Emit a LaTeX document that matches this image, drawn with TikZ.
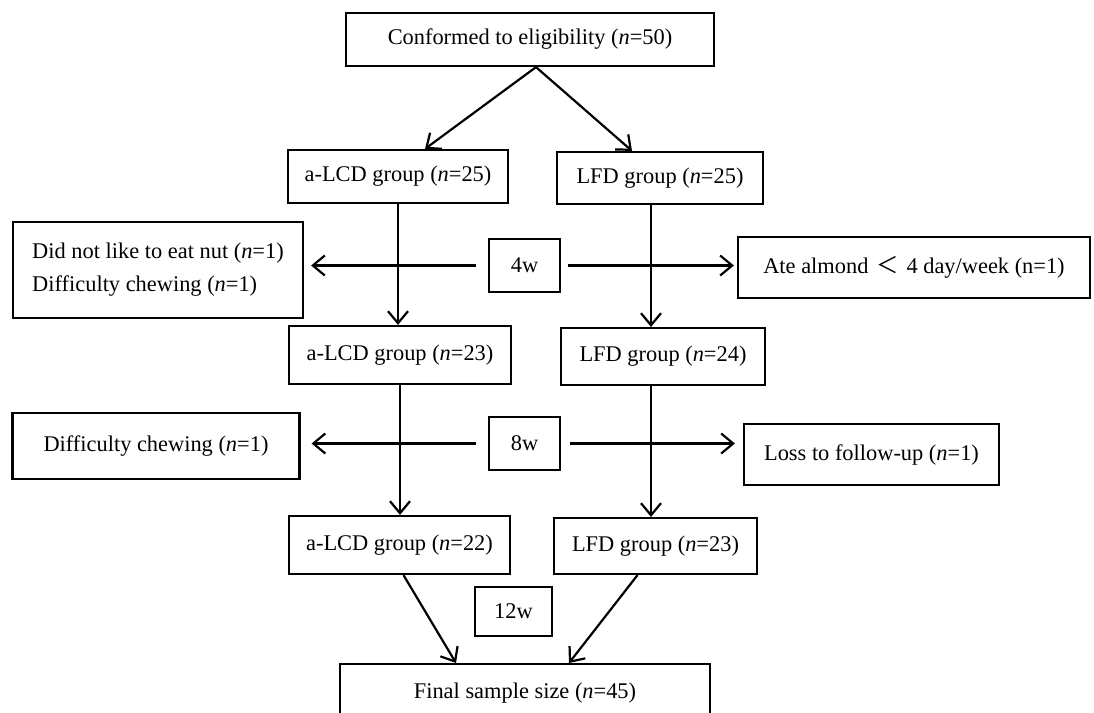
\documentclass[tikz,border=0pt]{standalone}
\usepackage{fontspec}
\setmainfont{Liberation Serif}
\newfontfamily\cjk{Noto Sans CJK SC}
\usetikzlibrary{arrows.meta}
\tikzstyle{box}=[draw, rectangle, line width=1.1pt, inner sep=0pt,
    align=center, font=\fontsize{11.2}{16.5}\selectfont]
\tikzstyle{wk}=[box, minimum width=35.5pt, minimum height=26.5pt]

\begin{document}
\begin{tikzpicture}[x=0.5pt,y=-0.5pt,line width=1.1pt,>={Straight Barb[length=6pt,width=10pt]}]
  \useasboundingbox (0,0) rectangle (1094,713);
  \node at (530, 39.5) (elig)[box, minimum width=184pt, minimum height=26.5pt] {Conformed to eligibility (\textit{n}=50)};
  \node at (398, 176.5) (lcd25)[box, minimum width=110pt, minimum height=26.5pt] {a-LCD group (\textit{n}=25)};
  \node at (660, 178) (lfd25)[box, minimum width=103pt, minimum height=26pt] {LFD group (\textit{n}=25)};
  \node at (158, 270) (out4a)[box, align=left, minimum width=145pt, minimum height=48pt] {Did not like to eat nut (\textit{n}=1)\\Difficulty chewing (\textit{n}=1)};
  \node at (524.5, 265.5) (w4)[wk] {4w};
  \node at (914, 267.5) (almond)[box, minimum width=176pt, minimum height=30.5pt] {Ate almond\hspace{0.35em}{\cjk ＜}\hspace{0.35em}4 day/week (n=1)};

  \node at (400, 355) (lcd23)[box, minimum width=111pt, minimum height=29pt] {a-LCD group (\textit{n}=23)};
  \node at (663, 356.5) (lfd24)[box, minimum width=102pt, minimum height=28.5pt] {LFD group (\textit{n}=24)};
  \node at (156, 446) (out8a)[box, minimum width=143.5pt, minimum height=33pt] {Difficulty chewing (\textit{n}=1)};
  \node at (524.5, 443.5) (w8)[wk] {8w};
  \node at (871.5, 454.5) (loss)[box, minimum width=127.5pt, minimum height=30.5pt] {Loss to follow-up (\textit{n}=1)};

  \node at (399.5, 545) (lcd22)[box, minimum width=110.5pt, minimum height=29pt] {a-LCD group (\textit{n}=22)};
  \node at (655.5, 546) (lfd23)[box, minimum width=101.5pt, minimum height=28pt] {LFD group (\textit{n}=23)};
  \node at (513.5, 611.5) (w12)[wk, minimum width=38.5pt, minimum height=24.5pt] {12w};
  \node[anchor=north] at (525, 663) (final)[box, minimum width=185pt, minimum height=29pt] {Final sample size (\textit{n}=45)};

  % split
  \draw[->] ([xshift=3pt]elig.south) -- ([xshift=13.5pt]lcd25.north);
  \draw[->] ([xshift=3pt]elig.south) -- ([xshift=-14pt]lfd25.north);

  % a-LCD arm
  \draw[->] (lcd25.south) -- (lcd25.south |- lcd23.north);
  \draw[->] (lcd23.south) -- (lcd23.south |- lcd22.north);

  % LFD arm
  \coordinate (lfdline) at ([xshift=-4.5pt]lfd25.south);
  \draw[->] (lfdline) -- (lfdline |- lfd24.north);
  \draw[->] (lfdline |- lfd24.south) -- (lfdline |- lfd23.north);

  % drop outs
  \draw[->, shorten <=6pt, shorten >=3.5pt] (w4.west) -- (w4.west -| out4a.east);
  \draw[->, shorten <=3.5pt, shorten >=1.5pt] (w4.east) -- (w4.east -| almond.west);
  \draw[->, shorten <=6pt, shorten >=5.5pt] (w8.west) -- (w8.west -| out8a.east);
  \draw[->, shorten <=4.5pt, shorten >=4pt] (w8.east) -- (w8.east -| loss.west);

  % merge
  \draw[->] ([xshift=2pt]lcd22.south) -- ([xshift=-34.5pt]final.north);
  \draw[->] ([xshift=-9pt]lfd23.south) -- ([xshift=22pt]final.north);
\end{tikzpicture}
\end{document}
